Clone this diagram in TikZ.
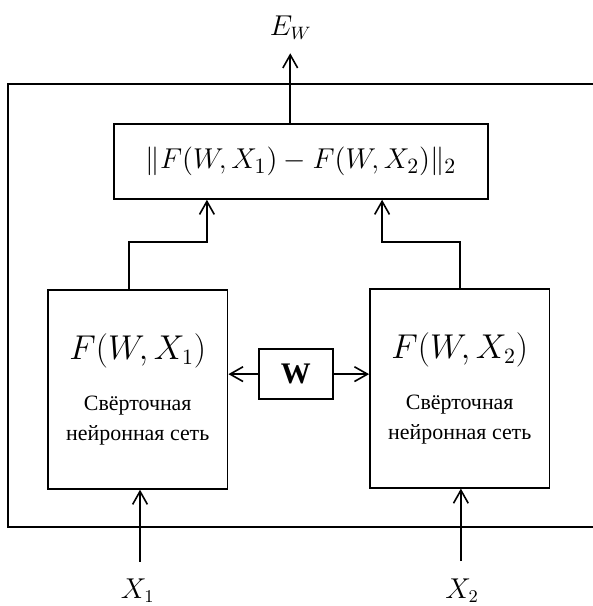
\documentclass[tikz,border=0pt]{standalone}
\usepackage{amsmath,amssymb}
\usepackage{fontspec}
\setmainfont{Liberation Serif}
\newfontfamily\netfont{Liberation Serif}
\usepackage{xcolor}
\usepackage{tikz}
\usetikzlibrary{arrows.meta,positioning,calc}
\definecolor{Ink}{HTML}{000000}
\tikzset{
  block/.style={draw=Ink,line width=0.8pt,fill=white,inner sep=0pt,align=center},
  netbox/.style={block,minimum width=3.17cm,minimum height=3.51cm,font=\netfont\fontsize{11}{15}\selectfont},
  wbox/.style={block,minimum width=1.31cm,minimum height=0.88cm,font=\netfont\fontsize{15}{18}\selectfont\bfseries},
  normbox/.style={block,minimum width=6.60cm,minimum height=1.32cm,font=\fontsize{15}{18}\selectfont},
  arrow/.style={-{Straight Barb[length=2.3mm,width=2.6mm]},line width=0.8pt,draw=Ink},
  frame/.style={draw=Ink,line width=0.9pt},
  sym/.style={font=\fontsize{13.5}{16}\selectfont,inner sep=0pt}
}
\newcommand{\fbig}[1]{{\fontsize{16}{19}\selectfont$#1$}}

\begin{document}
\begin{tikzpicture}
  \useasboundingbox (0,0) rectangle (10.46,10.69);
  % outer frame, open on the right
  \draw[frame] (10.46,9.21) -- (0.14,9.21) -- (0.14,1.39) -- (10.46,1.39);
  \node[normbox] (dist) at (5.31,7.84) {$\|F(W,X_1)-F(W,X_2)\|_2$};
  \node[netbox] (net1) at (2.43,3.82) {\fbig{F(W,X_1)}\\[11pt]Свёрточная\\нейронная сеть};
  \node[netbox] (net2) at (8.11,3.84) {\fbig{F(W,X_2)}\\[11pt]Свёрточная\\нейронная сеть};
  \node[wbox] (w) at (5.22,4.09) {W};
  \node[sym] (ew) at (5.13,10.20) {$E_W$};
  \node[sym] (x1) at (2.43,0.27) {$X_1$};
  \node[sym] (x2) at (8.15,0.27) {$X_2$};
  \coordinate (out) at (5.12,9.75);
  \coordinate (in1) at (2.47,0.78);
  \coordinate (in2) at (8.13,0.79);
  \draw[arrow] (dist.north -| out) -- (out);
  \draw[arrow] ([xshift=-0.15cm]net1.north) -- ++(0,0.83) -| ([xshift=-1.66cm]dist.south);
  \draw[arrow] (net2.north) -- ++(0,0.81) -| ([xshift=1.43cm]dist.south);
  \draw[arrow] (w.west) -- (w.west -| net1.east);
  \draw[arrow] (w.east) -- (w.east -| net2.west);
  \draw[arrow] (in1) -- (in1 |- net1.south);
  \draw[arrow] (in2) -- (in2 |- net2.south);
\end{tikzpicture}
\end{document}
